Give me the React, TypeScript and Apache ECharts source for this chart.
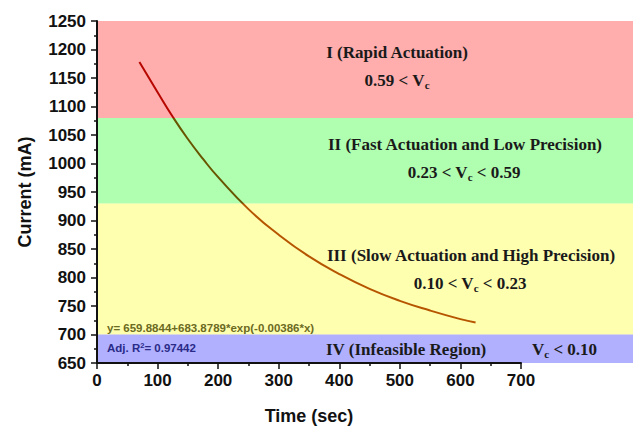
import React, { useEffect, useRef } from "react";
import * as echarts from "echarts";

// Fitted decay curve
const timeSec = [70, 100, 125, 150, 175, 200, 250, 300, 350, 400, 450, 500, 550, 600, 625];
const currentmA = [1178, 1125, 1082, 1043, 1008, 976, 920, 875, 837, 806, 780, 759, 742, 727, 721];

// Region bands (upper bound, lower bound); translucent washes laid over the curve
const bandTop = [1250, 1080, 930, 700];
const bandBottom = [1080, 930, 700, 650];
const bandColors = [
  "rgba(255,0,0,0.32)",
  "rgba(0,255,0,0.31)",
  "rgba(255,255,0,0.31)",
  "rgba(0,0,255,0.31)",
];
const bandRightEdge = 885; // bands run past the 700 s axis end to the frame edge

const xTicks = { min: 0, max: 700, interval: 100 };
const yTicks = { min: 650, max: 1250, interval: 50 };

const serif = "'Liberation Serif', 'Times New Roman', serif";
const sans = "'Liberation Sans', Arial, sans-serif";

export default function App() {
  const ref = useRef<HTMLDivElement>(null);
  useEffect(() => {
    if (!ref.current) return;
    const chart = echarts.init(ref.current, undefined, { renderer: "svg" });
    const bandData = bandTop.map((t, i) => [0, bandRightEdge, bandBottom[i], t, i]);
    const regionText = (x: number, y: number, parts: string, align = "center") => ({
      type: "text",
      x,
      y,
      z: 10,
      style: {
        text: parts,
        align,
        verticalAlign: "middle",
        font: `bold 17px ${serif}`,
        fill: "#1a1a1a",
        rich: {
          t: { font: `bold 17px ${serif}`, fill: "#1a1a1a", verticalAlign: "middle" },
          s: { font: `bold 11px ${serif}`, fill: "#1a1a1a", padding: [9, 0, 0, 0] },
        },
      },
    });
    const axisText = { fontFamily: sans, fontWeight: "bold", fontSize: 17, color: "#111" };
    const nameText = { fontFamily: sans, fontWeight: "bold", fontSize: 18, color: "#111" };
    chart.setOption({
      animation: false,
      grid: [
        { left: 97, right: 0, top: 21, bottom: 64, outerBoundsMode: "none", containLabel: false },
        { left: 97, width: 424, top: 21, bottom: 64, outerBoundsMode: "none", containLabel: false },
      ],
      xAxis: [
        { gridIndex: 0, type: "value", min: 0, max: bandRightEdge, show: false },
        {
          gridIndex: 1,
          type: "value",
          z: 10,
          min: xTicks.min,
          max: xTicks.max,
          interval: xTicks.interval,
          name: "Time (sec)",
          nameLocation: "middle",
          nameGap: 44,
          nameTextStyle: nameText,
          axisLine: { show: true, onZero: false, lineStyle: { color: "#111", width: 2 } },
          axisTick: { show: true, length: 6, lineStyle: { color: "#111", width: 1.5 } },
          minorTick: { show: true, splitNumber: 2, length: 3, lineStyle: { color: "#111", width: 1.5 } },
          axisLabel: { ...axisText, margin: 9, formatter: (v: number) => String(v) },
          splitLine: { show: false },
        },
      ],
      yAxis: [
        { gridIndex: 0, type: "value", min: yTicks.min, max: yTicks.max, show: false },
        {
          gridIndex: 1,
          type: "value",
          z: 10,
          min: yTicks.min,
          max: yTicks.max,
          interval: yTicks.interval,
          name: "Current (mA)",
          nameLocation: "middle",
          nameGap: 63,
          nameTextStyle: nameText,
          axisLine: { show: true, onZero: false, lineStyle: { color: "#111", width: 2 } },
          axisTick: { show: true, length: 6, lineStyle: { color: "#111", width: 1.5 } },
          minorTick: { show: true, splitNumber: 2, length: 3, lineStyle: { color: "#111", width: 1.5 } },
          axisLabel: { ...axisText, margin: 11, formatter: (v: number) => String(v) },
          splitLine: { show: false },
        },
      ],
      series: [
        {
          type: "line",
          xAxisIndex: 1,
          yAxisIndex: 1,
          z: 1,
          smooth: true,
          showSymbol: false,
          symbol: "none",
          data: timeSec.map((t, i) => [t, currentmA[i]]),
          lineStyle: { color: "#960a00", width: 2 },
        },
        {
          type: "custom",
          xAxisIndex: 0,
          yAxisIndex: 0,
          z: 3,
          silent: true,
          data: bandData,
          renderItem: (params: any, api: any) => {
            const p0 = api.coord([api.value(0), api.value(3)]);
            const p1 = api.coord([api.value(1), api.value(2)]);
            return {
              type: "rect",
              shape: { x: p0[0], y: p0[1], width: p1[0] - p0[0], height: p1[1] - p0[1] },
              style: { fill: bandColors[api.value(4)] },
            };
          },
        },
      ],
      graphic: [
        regionText(397, 52, "{t|I (Rapid Actuation)}"),
        regionText(397, 80, "{t|0.59 < V}{s|c}"),
        regionText(465, 144, "{t|II (Fast Actuation and Low Precision)}"),
        regionText(464, 172, "{t|0.23 < V}{s|c}{t| < 0.59}"),
        regionText(471, 255, "{t|III (Slow Actuation and High Precision)}"),
        regionText(470, 283, "{t|0.10 < V}{s|c}{t| < 0.23}"),
        regionText(326, 349, "{t|IV (Infeasible Region)}", "left"),
        regionText(532, 349, "{t|V}{s|c}{t| < 0.10}", "left"),
        {
          type: "text",
          x: 107,
          y: 328,
          z: 10,
          style: {
            text: "y= 659.8844+683.8789*exp(-0.00386*x)",
            verticalAlign: "middle",
            font: `bold 11.5px ${sans}`,
            fill: "#6b6a22",
          },
        },
        {
          type: "text",
          x: 107,
          y: 348,
          z: 10,
          style: {
            text: "{a|Adj. R}{b|2}{a|= 0.97442}",
            verticalAlign: "middle",
            font: `bold 11.5px ${sans}`,
            rich: {
              a: { font: `bold 11.5px ${sans}`, fill: "#2a2a88" },
              b: { font: `bold 7.5px ${sans}`, fill: "#2a2a88", padding: [0, 0, 6, 0] },
            },
          },
        },
      ],
    });
    return () => chart.dispose();
  }, []);
  return <div ref={ref} style={{ width: 633, height: 427, position: "absolute", left: 0, top: 0 }} />;
}
